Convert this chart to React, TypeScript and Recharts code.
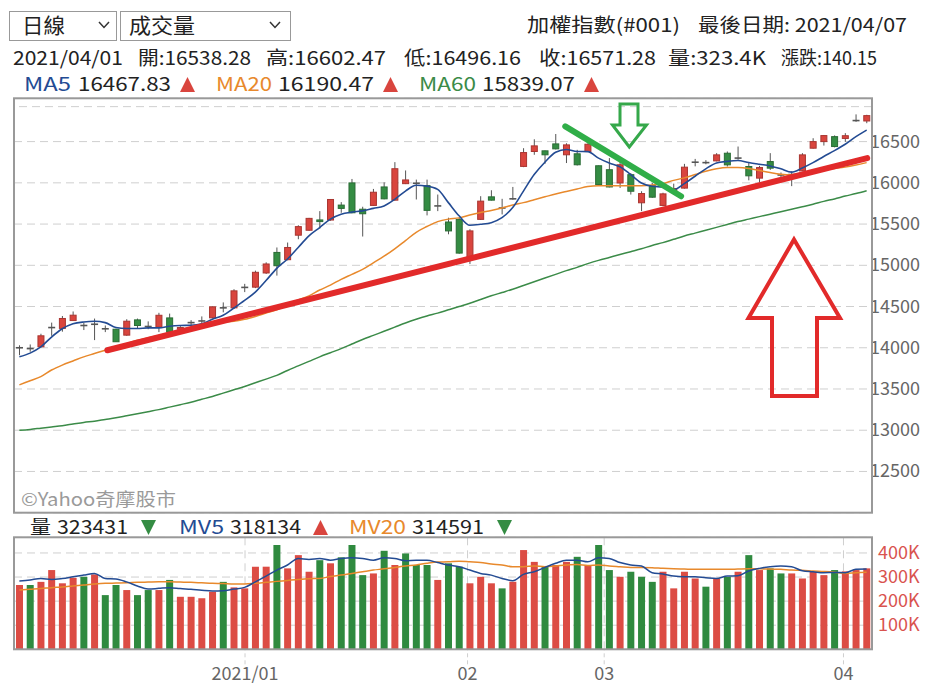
import React from "react";
import {
  ComposedChart,
  Bar,
  Line,
  XAxis,
  YAxis,
  CartesianGrid,
  ReferenceLine,
  Cell,
} from "recharts";

// 2020/12/02 - 2021/04/07 加權指數 日線
const opens = [
  13990, 14005, 14012, 14235, 14235, 14330, 14285, 14275, 14240, 14225,
  14153, 14338, 14265, 14250, 14362, 14225, 14295, 14315, 14363, 14500,
  14484, 14715, 14735, 14907, 15156, 15068, 15365, 15425, 15550, 15549,
  15730, 15999, 15680, 15726, 15950, 15790, 15990, 16005, 15966, 15710,
  15525, 15557, 15076, 15557, 15830, 15705, 15800, 16199, 16380, 16388,
  16472, 16340, 16352, 16380, 16207, 16159, 15998, 16099, 15758, 15966,
  15726, 15900, 15936, 16240, 16255, 16266, 16359, 16290, 16198, 16057,
  16258, 16110, 16090, 16145, 16420, 16500, 16560, 16538.28, 16745, 16750,
];
const highs = [
  14030, 14040, 14170, 14305, 14385, 14440, 14305, 14354, 14270, 14230,
  14346, 14354, 14320, 14424, 14414, 14262, 14335, 14380, 14500, 14550,
  14710, 14775, 14935, 15036, 15216, 15276, 15485, 15575, 15657, 15800,
  15766, 16047, 15710, 15926, 16006, 16251, 16150, 16039, 16039, 15858,
  15577, 15577, 15437, 15838, 15910, 15806, 15950, 16420, 16528, 16392,
  16592, 16480, 16400, 16480, 16210, 16300, 16279, 16119, 15898, 15998,
  15880, 15990, 16230, 16290, 16275, 16360, 16380, 16440, 16240, 16206,
  16360, 16125, 16140, 16360, 16541, 16580, 16575, 16602.47, 16830, 16825,
];
const lows = [
  13910, 13952, 14005, 14145, 14195, 14325, 14215, 14093, 14190, 14070,
  14145, 14233, 14225, 14190, 14182, 14212, 14270, 14300, 14355, 14430,
  14470, 14675, 14723, 14895, 14875, 15060, 15316, 15420, 15445, 15540,
  15637, 15630, 15349, 15720, 15800, 15785, 15985, 15798, 15605, 15657,
  15376, 15140, 15016, 15550, 15785, 15617, 15795, 16190, 16340, 16231,
  16405, 16240, 16210, 16375, 15975, 15945, 15938, 15858, 15657, 15818,
  15718, 15880, 15930, 16200, 16225, 16260, 16198, 16280, 16030, 16004,
  16157, 16060, 15960, 16140, 16415, 16452, 16430, 16496.16, 16740, 16723,
];
const closes = [
  14000, 13990, 14145, 14245, 14355, 14395, 14270, 14285, 14230, 14073,
  14322, 14270, 14258, 14394, 14190, 14245, 14305, 14325, 14496, 14484,
  14690, 14732, 14915, 15016, 14995, 15216, 15469, 15569, 15530, 15798,
  15690, 15637, 15625, 15886, 15806, 16171, 16035, 15995, 15666, 15720,
  15417, 15148, 15417, 15778, 15790, 15695, 15806, 16367, 16448, 16340,
  16412, 16460, 16219, 16468, 15979, 15950, 16219, 15898, 15870, 15826,
  15866, 15930, 16190, 16250, 16245, 16339, 16218, 16300, 16085, 16185,
  16178, 16095, 16100, 16339, 16500, 16573, 16440, 16571.28, 16755, 16815,
];
const prevClose = 13960;

// 成交量 (K)
const volumes = [
  267, 267, 280, 329, 274, 297, 301, 311, 225, 267,
  246, 225, 246, 246, 288, 218, 218, 212, 239, 280,
  257, 253, 343, 343, 433, 336, 391, 322, 370, 357,
  382, 433, 308, 315, 409, 350, 398, 350, 350, 288,
  357, 343, 274, 301, 274, 253, 280, 412, 363, 343,
  350, 363, 384, 350, 433, 329, 301, 322, 301, 280,
  322, 253, 322, 294, 260, 294, 301, 322, 391, 329,
  336, 315, 315, 294, 322, 308, 329, 323.4, 329, 336,
];

const ma5 = [
  13890, 13935, 14010, 14130, 14230, 14290, 14313, 14321, 14305, 14245,
  14233, 14233, 14241, 14241, 14260, 14270, 14273, 14290, 14346, 14394,
  14482, 14574, 14675, 14815, 14963, 15076, 15216, 15357, 15457, 15560,
  15620, 15645, 15660, 15690, 15720, 15800, 15900, 15970, 15960, 15920,
  15760, 15600, 15485, 15497, 15517, 15577, 15700, 15900, 16100, 16250,
  16370, 16405, 16380, 16378, 16300, 16240, 16195, 16100, 15998, 15958,
  15950, 15916, 15990, 16080, 16170, 16240, 16260, 16270, 16246, 16225,
  16205, 16170, 16130, 16180, 16245, 16320, 16390, 16467.83, 16560, 16640,
];
const ma20 = [
  13550, 13600, 13650, 13730, 13790, 13840, 13890, 13930, 13970, 14010,
  14050, 14090, 14120, 14150, 14180, 14210, 14240, 14265, 14290, 14310,
  14320, 14345, 14380, 14420, 14460, 14520, 14580, 14630, 14700, 14760,
  14830, 14890, 14950, 15030, 15110, 15200, 15300, 15400, 15470, 15530,
  15560, 15575, 15610, 15640, 15665, 15695, 15730, 15760, 15795, 15830,
  15865, 15895, 15925, 15955, 15964, 15964, 15964, 15964, 15966, 15975,
  15990, 16030, 16060, 16100, 16140, 16170, 16185, 16185, 16175, 16150,
  16125, 16105, 16097, 16120, 16140, 16160, 16175, 16190.47, 16215, 16245,
];
const ma60 = [
  13000, 13010, 13025, 13040, 13055, 13075, 13095, 13110, 13130, 13150,
  13175, 13200, 13225, 13250, 13280, 13310, 13340, 13375, 13410, 13450,
  13490, 13530, 13575, 13620, 13665, 13725, 13780, 13835, 13890, 13940,
  13990, 14045, 14100, 14150, 14200, 14250, 14300, 14345, 14385, 14420,
  14460, 14500, 14540, 14585, 14630, 14670, 14710, 14755, 14800, 14845,
  14890, 14935, 14975, 15020, 15060, 15095, 15130, 15165, 15200, 15240,
  15275, 15315, 15355, 15390, 15425, 15460, 15495, 15530, 15560, 15590,
  15620, 15650, 15680, 15710, 15740, 15775, 15805, 15839.07, 15870, 15905,
];
const mv5 = [
  283, 288, 294, 290, 294, 301, 308, 315, 294, 292,
  280, 263, 250, 253, 256, 252, 249, 245, 242, 243,
  250, 257, 280, 304, 329, 350, 377, 373, 377, 370,
  377, 380, 377, 370, 380, 377, 368, 370, 370, 360,
  350, 343, 329, 315, 308, 294, 285, 311, 322, 340,
  357, 370, 370, 363, 380, 377, 360, 350, 346, 318,
  313, 304, 301, 301, 297, 294, 304, 305, 325, 336,
  343, 346, 343, 326, 322, 318, 319, 318.1, 332, 333,
];
const mv20 = [
  246, 249, 252, 256, 259, 263, 267, 271, 274, 275,
  276, 278, 279, 280, 280, 279, 278, 276, 274, 273,
  271, 271, 274, 278, 282, 286, 290, 293, 294, 302,
  308, 315, 322, 329, 334, 340, 346, 350, 357, 362,
  363, 366, 363, 360, 354, 350, 343, 343, 346, 343,
  346, 350, 352, 348, 350, 346, 343, 340, 340, 339,
  336, 334, 333, 332, 332, 332, 332, 333, 334, 334,
  333, 332, 329, 328, 325, 323, 320, 314.6, 318, 320,
];

const monthTicks = [21.04, 41.79, 54.53, 76.84];
const monthLabels = ["2021/01", "02", "03", "04"];
const priceTicks = [12500, 13000, 13500, 14000, 14500, 15000, 15500, 16000, 16500];
const volTicks = [100, 200, 300, 400];

// 手繪趨勢線 (index, price)
const supportLine = [
  { x: 8.2, y: 13970 },
  { x: 79.05, y: 16300 },
];
const pressureLine = [
  { x: 50.9, y: 16684 },
  { x: 61.7, y: 15837 },
];

const RED = "#d9453e";
const GREEN = "#348c43";
const NAVY = "#234b93";
const ORANGE = "#e8892c";
const MA60C = "#3b8b48";
const GRID = "#cfcfcf";
const FONT = '"Noto Sans CJK TC", "Noto Sans", sans-serif';

const data = closes.map((c, i) => ({
  i,
  open: opens[i],
  high: highs[i],
  low: lows[i],
  close: c,
  vol: volumes[i],
  ma5: ma5[i],
  ma20: ma20[i],
  ma60: ma60[i],
  mv5: mv5[i],
  mv20: mv20[i],
  volUp: c >= (i === 0 ? prevClose : closes[i - 1]),
}));

const Candle = (props: any) => {
  const { x, y, width, height, payload } = props;
  const { open, close, high, low } = payload;
  const top = Math.min(y, y + height);
  const bottom = Math.max(y, y + height);
  const span = high - low || 1;
  const toY = (v: number) => top + ((high - v) / span) * (bottom - top);
  const cx = x + width / 2;
  const yo = toY(open);
  const yc = toY(close);
  const bTop = Math.min(yo, yc);
  const bH = Math.abs(yo - yc);
  if (bH < 1.6) {
    return (
      <g>
        <line x1={cx} x2={cx} y1={top} y2={bottom} stroke="#555" strokeWidth={1} />
        <line x1={x} x2={x + width} y1={yc} y2={yc} stroke="#555" strokeWidth={1.6} />
      </g>
    );
  }
  const up = close >= open;
  return (
    <g>
      <line x1={cx} x2={cx} y1={top} y2={bottom} stroke="#555" strokeWidth={1} />
      <rect
        x={x + 0.5}
        y={bTop}
        width={width - 1}
        height={bH}
        fill={up ? RED : GREEN}
        stroke={up ? "#a93530" : "#2a6b35"}
        strokeWidth={1}
      />
    </g>
  );
};

const PriceTick = ({ x, y, payload }: any) => (
  <text x={x - 2} y={y} dy={6} fontSize={18} fill="#666" fontFamily={FONT}>
    {payload.value}
  </text>
);

const VolTick = ({ x, y, payload }: any) => (
  <text x={x + 6} y={y} dy={6} fontSize={18} fill="#d9534f" fontFamily={FONT}>
    {payload.value}K
  </text>
);

const Tri = ({ x, y, up, color }: { x: number; y: number; up: boolean; color: string }) =>
  up ? (
    <polygon points={`${x},${y + 15} ${x + 15},${y + 15} ${x + 7.5},${y}`} fill={color} />
  ) : (
    <polygon points={`${x},${y} ${x + 15},${y} ${x + 7.5},${y + 15}`} fill={color} />
  );

const T = ({ x, y, w, children, fill = "#222", size = 19 }: any) => (
  <text
    x={x}
    y={y}
    fontSize={size}
    fill={fill}
    textLength={w}
    lengthAdjust="spacingAndGlyphs"
    fontFamily={FONT}
  >
    {children}
  </text>
);

export default function App() {
  return (
    <div
      style={{
        position: "absolute",
        left: 0,
        top: 0,
        width: 934,
        height: 694,
        background: "#fff",
        fontFamily: FONT,
        overflow: "hidden",
      }}
    >
      <div style={{ position: "absolute", left: 0, top: 0 }}>
        <ComposedChart
          width={934}
          height={520}
          data={data}
          margin={{ top: 98.3, right: 0, bottom: 7.3, left: 14 }}
        >
          <CartesianGrid stroke={GRID} strokeDasharray="8 5" />
          <XAxis
            dataKey="i"
            type="number"
            domain={[-0.5, 79.5]}
            ticks={monthTicks}
            height={0}
            tick={false}
            axisLine={false}
            tickLine={false}
          />
          <YAxis
            orientation="right"
            width={62}
            type="number"
            domain={[12000, 17025]}
            ticks={priceTicks}
            axisLine={false}
            tickLine={false}
            tickSize={0}
            tickMargin={0}
            tick={PriceTick}
          />
          <ReferenceLine y={16924} stroke={GRID} strokeDasharray="8 5" />
          <Bar
            dataKey={(d: any) => [d.low, d.high]}
            barSize={7}
            shape={Candle}
            isAnimationActive={false}
          />
          <Line type="monotone" dataKey="ma60" stroke={MA60C} strokeWidth={1.5} dot={false} isAnimationActive={false} />
          <Line type="monotone" dataKey="ma20" stroke={ORANGE} strokeWidth={1.5} dot={false} isAnimationActive={false} />
          <Line type="monotone" dataKey="ma5" stroke={NAVY} strokeWidth={1.6} dot={false} isAnimationActive={false} />
          <ReferenceLine segment={supportLine} stroke="#e22a2a" strokeWidth={6} strokeLinecap="round" />
          <ReferenceLine segment={pressureLine} stroke="#30ae48" strokeWidth={6} strokeLinecap="round" />
        </ComposedChart>
      </div>

      <div style={{ position: "absolute", left: 0, top: 530 }}>
        <ComposedChart
          width={934}
          height={164}
          data={data}
          margin={{ top: 7.3, right: 0, bottom: 0, left: 14 }}
        >
          <CartesianGrid stroke={GRID} strokeDasharray="8 5" />
          <XAxis
            dataKey="i"
            type="number"
            domain={[-0.5, 79.5]}
            ticks={monthTicks}
            tickFormatter={(v: number) => monthLabels[monthTicks.indexOf(v)]}
            height={44.7}
            axisLine={false}
            tickSize={15}
            tickMargin={3}
            tickLine={{ stroke: GRID, strokeDasharray: "4 3" }}
            tick={{ fontSize: 18, fill: "#666", fontFamily: FONT }}
          />
          <YAxis
            orientation="right"
            width={62}
            type="number"
            domain={[0, 465]}
            ticks={volTicks}
            axisLine={false}
            tickLine={false}
            tickSize={0}
            tickMargin={0}
            tick={VolTick}
          />
          <Bar dataKey="vol" barSize={7} isAnimationActive={false}>
            {data.map((d) => (
              <Cell key={d.i} fill={d.volUp ? "#dc4c44" : "#2f8a3f"} />
            ))}
          </Bar>
          <Line type="monotone" dataKey="mv20" stroke={ORANGE} strokeWidth={1.5} dot={false} isAnimationActive={false} />
          <Line type="monotone" dataKey="mv5" stroke={NAVY} strokeWidth={1.5} dot={false} isAnimationActive={false} />
        </ComposedChart>
      </div>

      <svg
        width={934}
        height={694}
        style={{ position: "absolute", left: 0, top: 0, pointerEvents: "none" }}
      >
        {/* 選單 */}
        <rect x={9.5} y={11.5} width={107} height={29} fill="#fff" stroke="#999" />
        <T x={22} y={33} w={43} size={21}>日線</T>
        <polyline points="99,22 104,27.5 109,22" fill="none" stroke="#333" strokeWidth={1.5} />
        <rect x={120.5} y={11.5} width={170} height={29} fill="#fff" stroke="#999" />
        <T x={129} y={33} w={66} size={21}>成交量</T>
        <polyline points="270,22 275,27.5 280,22" fill="none" stroke="#333" strokeWidth={1.5} />

        <T x={527} y={32} w={153}>加權指數(#001)</T>
        <T x={698} y={32} w={209}>最後日期: 2021/04/07</T>

        <T x={13} y={65} w={110}>2021/04/01</T>
        <T x={138} y={65} w={113}>開:16538.28</T>
        <T x={266} y={65} w={120}>高:16602.47</T>
        <T x={404} y={65} w={117}>低:16496.16</T>
        <T x={539} y={65} w={117}>收:16571.28</T>
        <T x={668} y={65} w={98}>量:323.4K</T>
        <T x={781} y={65} w={96}>漲跌:140.15</T>

        <T x={24} y={91} w={47} fill={NAVY}>MA5</T>
        <T x={78} y={91} w={93}>16467.83</T>
        <Tri x={180} y={77} up color={RED} />
        <T x={216} y={91} w={56} fill={ORANGE}>MA20</T>
        <T x={278} y={91} w={96}>16190.47</T>
        <Tri x={383} y={77} up color={RED} />
        <T x={419} y={91} w={57} fill={MA60C}>MA60</T>
        <T x={482} y={91} w={93}>15839.07</T>
        <Tri x={584} y={77} up color={RED} />

        {/* 面板外框 */}
        <rect x={14} y={98.3} width={858} height={414.4} fill="none" stroke="#999" strokeWidth={2} />
        <rect x={14} y={537.3} width={858} height={112} fill="none" stroke="#999" strokeWidth={2} />

        <T x={21} y={506} w={155} fill="#9a9a9a" size={18}>©Yahoo奇摩股市</T>

        <T x={30} y={534} w={21}>量</T>
        <T x={57} y={534} w={71}>323431</T>
        <Tri x={141} y={520} up={false} color={GREEN} />
        <T x={179} y={534} w={45} fill={NAVY}>MV5</T>
        <T x={230} y={534} w={71}>318134</T>
        <Tri x={313} y={520} up color={RED} />
        <T x={349} y={534} w={57} fill={ORANGE}>MV20</T>
        <T x={412} y={534} w={72}>314591</T>
        <Tri x={497} y={520} up={false} color={GREEN} />

        {/* 手繪箭頭 */}
        <polygon
          points="620,104 638,104 638,125 646.5,125 629.3,147 612.5,125 620,125"
          fill="none"
          stroke="#35a84a"
          strokeWidth={3}
        />
        <polygon
          points="794,239.5 840,318 817,318 817,396 772,396 772,318 748.5,318"
          fill="none"
          stroke="#e22a2a"
          strokeWidth={4}
        />
      </svg>
    </div>
  );
}
